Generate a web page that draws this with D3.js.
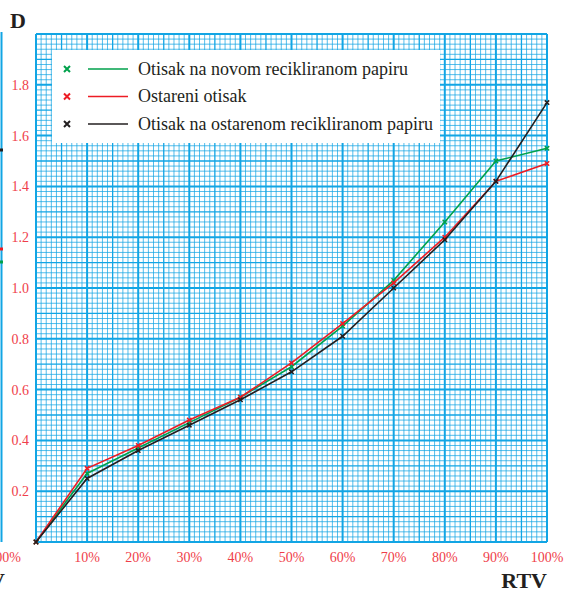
<!DOCTYPE html>
<html>
<head>
<meta charset="utf-8">
<script src="https://cdn.jsdelivr.net/npm/d3@7"></script>
<style>
  body { margin: 0; background: #fff; }
</style>
</head>
<body>
<div id="chart"></div>
<script>
// data
const rtv = [0, 10, 20, 30, 40, 50, 60, 70, 80, 90, 100];
const novi = [0, 0.27, 0.37, 0.47, 0.57, 0.69, 0.85, 1.03, 1.26, 1.50, 1.55];
const ostareni = [0, 0.29, 0.38, 0.48, 0.57, 0.705, 0.86, 1.02, 1.20, 1.42, 1.49];
const ostareniRec = [0, 0.25, 0.36, 0.46, 0.56, 0.67, 0.81, 1.00, 1.19, 1.42, 1.73];
const seriesNames = ["Otisak na novom recikliranom papiru", "Ostareni otisak", "Otisak na ostarenom recikliranom papiru"];
const seriesColors = ["#00a14b", "#ed1c24", "#231f20"];
const yTicks = [0.2, 0.4, 0.6, 0.8, 1.0, 1.2, 1.4, 1.6, 1.8];
const xTicks = [10, 20, 30, 40, 50, 60, 70, 80, 90, 100];

const W = 566, H = 593;
const serif = "'Liberation Serif', 'DejaVu Serif', serif";
const x = d3.scaleLinear().domain([0, 100]).range([36, 547]);
const y = d3.scaleLinear().domain([0, 2]).range([542, 34]);
const gridBlue = "#12a5e4";
const labelRed = "#ef3e4a";

const svg = d3.select("#chart").append("svg")
  .attr("width", W).attr("height", H)
  .attr("font-family", serif);

// graph paper
const grid = svg.append("g");
const steps = d3.range(0, 101, 1);
const weight = i => (i % 10 === 0 ? 2 : i % 5 === 0 ? 1.3 : 0.9);
const op = i => (i % 10 === 0 ? 1 : i % 5 === 0 ? 1 : 0.8);

grid.selectAll(".v").data(steps).enter().append("line")
  .attr("x1", d => x(d)).attr("x2", d => x(d))
  .attr("y1", y(0)).attr("y2", y(2))
  .attr("stroke", gridBlue)
  .attr("stroke-width", d => weight(d))
  .attr("opacity", d => op(d));

grid.selectAll(".h").data(steps).enter().append("line")
  .attr("y1", d => y(d * 0.02)).attr("y2", d => y(d * 0.02))
  .attr("x1", x(0)).attr("x2", x(100))
  .attr("stroke", gridBlue)
  .attr("stroke-width", d => weight(d))
  .attr("opacity", d => op(d));

// y labels
svg.selectAll(".yl").data(yTicks).enter().append("text")
  .attr("x", 29).attr("y", d => y(d) + 5)
  .attr("text-anchor", "end")
  .attr("font-size", 14)
  .attr("fill", labelRed)
  .text(d => d.toFixed(1));

// x labels
svg.selectAll(".xl").data(xTicks).enter().append("text")
  .attr("x", d => x(d)).attr("y", 562)
  .attr("text-anchor", "middle")
  .attr("font-size", 14)
  .attr("fill", labelRed)
  .text(d => d + "%");

// axis titles
svg.append("text").attr("x", 10).attr("y", 28)
  .attr("font-size", 22).attr("font-weight", "bold").attr("fill", "#231f20")
  .text("D");
svg.append("text").attr("x", 547).attr("y", 588)
  .attr("text-anchor", "end")
  .attr("font-size", 22).attr("font-weight", "bold").attr("fill", "#231f20")
  .text("RTV");

// cut-off neighbour chart at the left edge
svg.append("line").attr("x1", 1.5).attr("x2", 1.5).attr("y1", 32).attr("y2", 542)
  .attr("stroke", gridBlue).attr("stroke-width", 2);
svg.append("text").attr("x", 21).attr("y", 562).attr("text-anchor", "end")
  .attr("font-size", 14).attr("fill", labelRed).text("100%");
svg.append("text").attr("x", 5).attr("y", 588).attr("text-anchor", "end")
  .attr("font-size", 22).attr("font-weight", "bold").attr("fill", "#231f20").text("RTV");
const edgeMarks = [[150, 2], [249, 1], [262, 0]];
svg.selectAll(".em").data(edgeMarks).enter().append("rect")
  .attr("x", 0).attr("y", d => d[0] - 1.5).attr("width", 3).attr("height", 3)
  .attr("fill", d => seriesColors[d[1]]);

// lines
const allSeries = [novi, ostareni, ostareniRec];
const line = d3.line().x((d, i) => x(rtv[i])).y(d => y(d));
const plot = svg.append("g");
allSeries.forEach((vals, s) => {
  plot.append("path").datum(vals)
    .attr("d", line)
    .attr("fill", "none")
    .attr("stroke", seriesColors[s])
    .attr("stroke-width", 1.6);
  plot.selectAll(".m" + s).data(vals).enter().append("path")
    .attr("d", (d, i) => {
      const cx = x(rtv[i]), cy = y(d), r = 2.2;
      return `M${cx - r},${cy - r}L${cx + r},${cy + r}M${cx - r},${cy + r}L${cx + r},${cy - r}`;
    })
    .attr("stroke", seriesColors[s])
    .attr("stroke-width", 1.5);
});

// legend
const lg = svg.append("g");
lg.append("rect").attr("x", 52).attr("y", 50).attr("width", 388).attr("height", 93)
  .attr("fill", "#fff");
seriesNames.forEach((name, i) => {
  const cy = 69 + i * 27.5;
  const r = 3;
  lg.append("path")
    .attr("d", `M${67 - r},${cy - r}L${67 + r},${cy + r}M${67 - r},${cy + r}L${67 + r},${cy - r}`)
    .attr("stroke", seriesColors[i]).attr("stroke-width", 2);
  lg.append("line").attr("x1", 88).attr("x2", 128).attr("y1", cy).attr("y2", cy)
    .attr("stroke", seriesColors[i]).attr("stroke-width", 1.6);
  lg.append("text").attr("x", 138).attr("y", cy + 5.5)
    .attr("font-size", 18).attr("fill", "#231f20")
    .text(name);
});
</script>
</body>
</html>
